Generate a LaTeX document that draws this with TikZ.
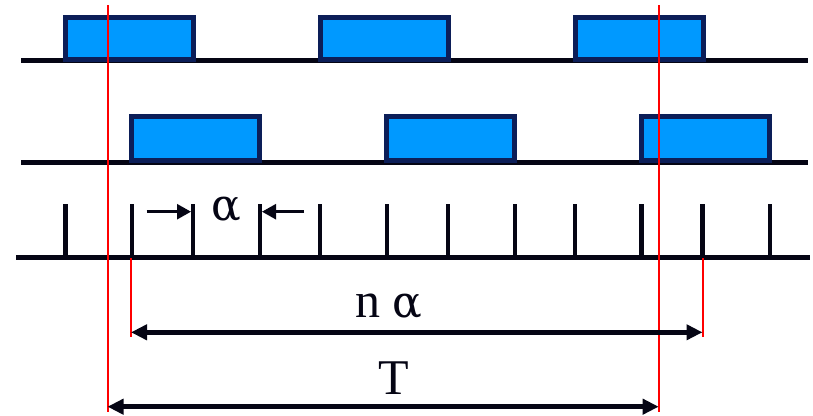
\documentclass[tikz,border=0pt]{standalone}
\usepackage{fontspec}
\setmainfont{Liberation Serif}
\newfontfamily\greekserif{DejaVu Serif}
\usetikzlibrary{arrows.meta}

\definecolor{pulsefill}{RGB}{0,153,255}
\definecolor{pulseedge}{RGB}{12,30,88}
\definecolor{ink}{RGB}{5,5,20}
\definecolor{marker}{RGB}{255,0,0}

\newcommand{\alphaglyph}{{\greekserif\fontsize{44}{50}\selectfont α}}

\tikzset{
  pulse/.style={draw=pulseedge, fill=pulsefill, line width=5pt,
    minimum width=128pt, inner sep=0pt, outer sep=0pt},
  axis/.style={draw=ink, line width=5pt},
  tick/.style={draw=ink, line width=4.5pt},
  redline/.style={draw=marker, line width=2pt},
  smallarrow/.style={draw=ink, line width=2.5pt, -{Triangle[length=14pt,width=15pt]}},
  dimarrow/.style={draw=ink, line width=4.5pt,
    {Triangle[length=16pt,width=15pt]}-{Triangle[length=16pt,width=15pt]}},
  lbl/.style={font=\fontsize{50}{60}\selectfont, inner sep=0pt, anchor=base, text=ink}
}

\begin{document}
\begin{tikzpicture}[x=1pt,y=-1pt]
\useasboundingbox (0,0) rectangle (813,415);

% signal baselines
\coordinate (a1) at (21,60);   \coordinate (b1) at (808,60);
\coordinate (a2) at (21,162);  \coordinate (b2) at (808,162);
\coordinate (a3) at (16,257.7); \coordinate (b3) at (810,257.7);
\draw[axis] (a1) -- (b1);
\draw[axis] (a2) -- (b2);
\draw[tick] (a3) -- (b3);

% pulses of the first signal
\node[pulse, minimum height=42pt] (p11) at (129.5,38.5) {};
\node[pulse, minimum height=42pt] (p12) at (384.5,38.5) {};
\node[pulse, minimum height=42pt] (p13) at (639.5,38.5) {};

% pulses of the second signal
\node[pulse, minimum height=44pt] (p21) at (195.5,138.5) {};
\node[pulse, minimum height=44pt] (p22) at (450.5,138.5) {};
\node[pulse, minimum height=44pt] (p23) at (705.5,138.5) {};

% clock ticks
\foreach \i/\x in {1/65.5,2/132,3/193,4/260,5/320,6/387,7/448,8/515,9/575,10/641.5,11/702.5,12/770}{
  \coordinate (t\i) at (\x,204);
  \coordinate (tb\i) at (\x,257.7);
  \draw[tick] (t\i) -- (tb\i);
}

% period markers
\coordinate (r1top) at (107.5,5);   \coordinate (r1bot) at (107.5,412);
\coordinate (r2top) at (658.7,5);   \coordinate (r2bot) at (658.7,412);
\coordinate (s1top) at (131,258);   \coordinate (s1bot) at (131,337);
\coordinate (s2top) at (702.5,258); \coordinate (s2bot) at (702.5,337);
\draw[redline] (r1top) -- (r1bot);
\draw[redline] (r2top) -- (r2bot);
\draw[redline] (s1top) -- (s1bot);
\draw[redline] (s2top) -- (s2bot);

% tick spacing alpha
\coordinate (al1) at (146.5,211.7); \coordinate (al2) at (191,211.7);
\coordinate (ar1) at (304,211.7);   \coordinate (ar2) at (262,211.7);
\draw[smallarrow] (al1) -- (al2);
\draw[smallarrow] (ar1) -- (ar2);
\node[lbl] (alpha) at (226.7,220) {\alphaglyph};

% n alpha span
\coordinate (na1) at (131,332.3); \coordinate (na2) at (702.5,332.3);
\draw[dimarrow] (na1) -- (na2);
\node[lbl] (nalpha) at (389,317.7) {n \alphaglyph};

% period T
\coordinate (T1) at (107.5,406.7); \coordinate (T2) at (658.7,406.7);
\draw[dimarrow] (T1) -- (T2);
\node[lbl] (period) at (394,394) {T};
\end{tikzpicture}
\end{document}
